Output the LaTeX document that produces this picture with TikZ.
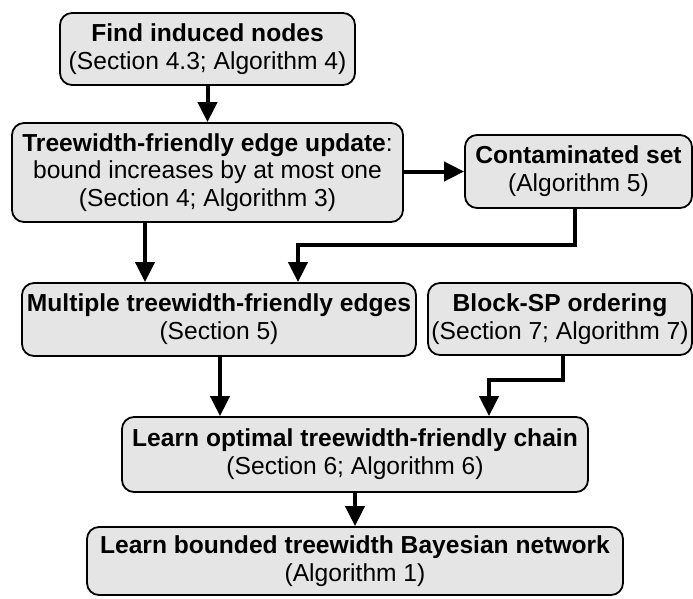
\documentclass[tikz,border=0pt]{standalone}
\usepackage{fontspec}
\setmainfont{Liberation Sans}
\usetikzlibrary{arrows.meta}
\begin{document}
\begin{tikzpicture}[x=1pt,y=-1pt,
  box/.style={draw=black, line width=1.8pt, fill=black!10, rounded corners=12pt,
    inner sep=0pt, align=center, font=\fontsize{24.6}{27.8}\selectfont},
  conn/.style={line width=4pt, -{Triangle[length=20pt,width=19pt]}}]
\useasboundingbox (0,0) rectangle (693,598);
\node[box, minimum width=295pt, minimum height=72pt] (b1) at (207.5,49)
  {\textbf{Find induced nodes}\\(Section 4.3; Algorithm 4)};
\node[box, minimum width=391pt, minimum height=99pt] (b2) at (207.5,172.5)
  {\textbf{Treewidth-friendly edge update}:\\bound increases by at most one\\(Section 4; Algorithm 3)};
\node[box, minimum width=227pt, minimum height=73pt] (b3) at (578.5,171.5)
  {\textbf{Contaminated set}\\(Algorithm 5)};
\node[box, minimum width=394pt, minimum height=73pt] (b4) at (219,319.5)
  {\textbf{Multiple treewidth-friendly edges}\\(Section 5)};
\node[box, minimum width=264pt, minimum height=72pt] (b5) at (560,319)
  {\textbf{Block-SP ordering}\\(Section 7; Algorithm 7)};
\node[box, minimum width=466pt, minimum height=75pt] (b6) at (355,454.5)
  {\textbf{Learn optimal treewidth-friendly chain}\\(Section 6; Algorithm 6)};
\node[box, minimum width=536pt, minimum height=68pt] (b7) at (355,561)
  {\textbf{Learn bounded treewidth Bayesian network}\\(Algorithm 1)};
\coordinate (c1) at (575,245);
\coordinate (c2) at (298,245);
\coordinate (c3) at (145,0);
\coordinate (c4) at (220,0);
\coordinate (c5) at (563,380);
\coordinate (c6) at (489,380);
\draw[conn] (b1.south) -- (b2.north);
\draw[conn] (b2.east |- b3.west) -- (b3.west);
\draw[conn] (c1 |- b3.south) -- (c1) -- (c2) -- (c2 |- b4.north);
\draw[conn] (c3 |- b2.south) -- (c3 |- b4.north);
\draw[conn] (c4 |- b4.south) -- (c4 |- b6.north);
\draw[conn] (c5 |- b5.south) -- (c5) -- (c6) -- (c6 |- b6.north);
\draw[conn] (b6.south) -- (b7.north);
\end{tikzpicture}
\end{document}
